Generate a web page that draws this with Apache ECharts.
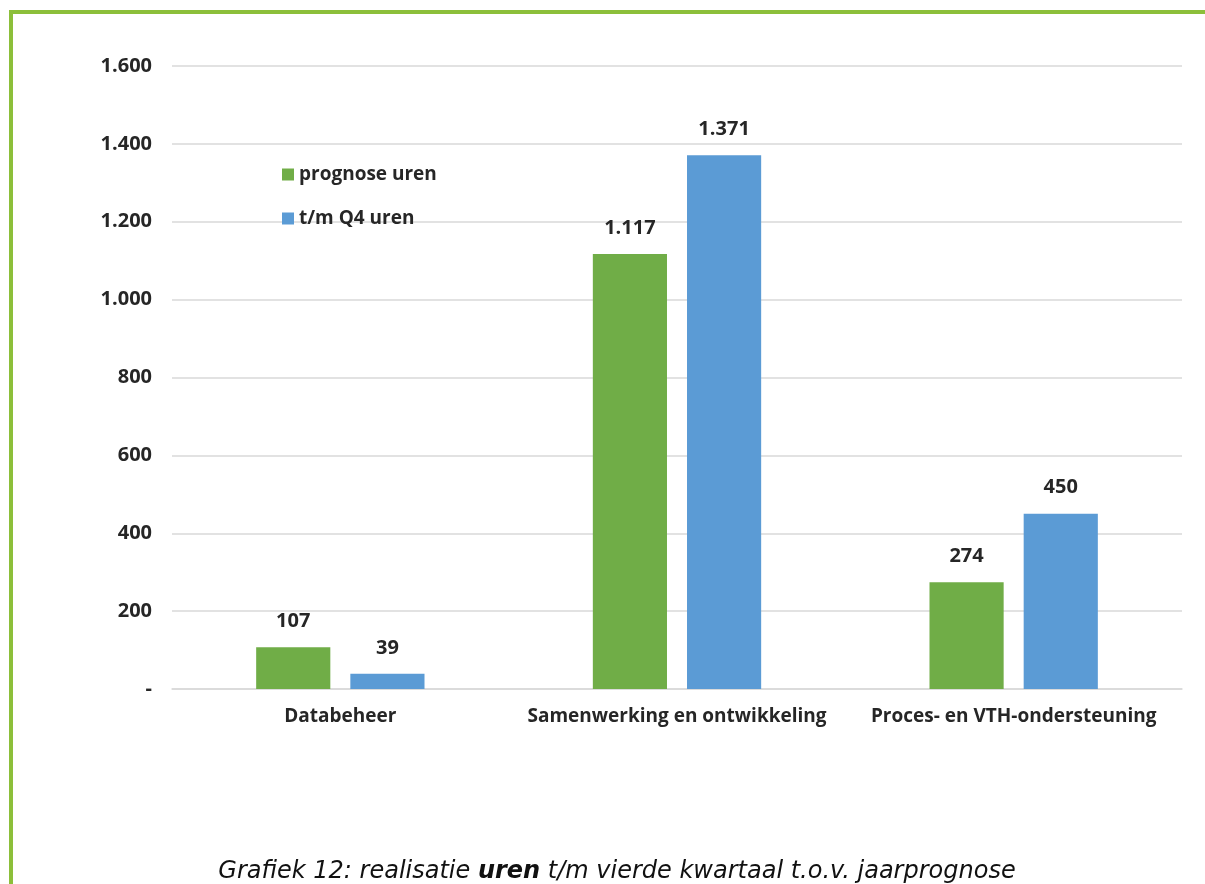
<!DOCTYPE html>
<html>
<head>
<meta charset="utf-8">
<script src="https://cdn.jsdelivr.net/npm/echarts@6/dist/echarts.min.js"></script>
<style>
  html, body { margin: 0; padding: 0; background: #fff; }
  #frame {
    position: absolute; left: 9px; top: 10px; width: 1196px; height: 874px;
    border-top: 4px solid #8cbf3a; border-left: 4px solid #8cbf3a;
    box-sizing: border-box;
  }
  #main { position: absolute; left: 0; top: 0; width: 1205px; height: 884px; }
</style>
</head>
<body>
<div id="frame"></div>
<div id="main"></div>
<script>
// data
var categories = ["Databeheer", "Samenwerking en ontwikkeling", "Proces- en VTH-ondersteuning"];
var prognoseUren = [107, 1117, 274];
var q4Uren = [39, 1371, 450];
var seriesNames = ["prognose uren", "t/m Q4 uren"];

function fmt(v) {
  if (v === 0) return "-";
  return String(v).replace(/\B(?=(\d{3})+(?!\d))/g, ".");
}

var chart = echarts.init(document.getElementById("main"));
var labelFont = { fontFamily: "Open Sans", fontWeight: "bold", fontSize: 19, color: "#262626" };

function valueLabel() {
  return Object.assign({ show: true, position: "top", distance: 16, formatter: function (p) { return fmt(p.value); } }, labelFont, { fontSize: 20 });
}

chart.setOption({
  backgroundColor: "transparent",
  animation: false,
  grid: { left: 172, right: 23, top: 66, bottom: 195 },
  title: {
    left: 612,
    textAlign: "center",
    top: 855,
    text: "{n|Grafiek 12: realisatie }{b|uren}{n| t/m vierde kwartaal t.o.v. jaarprognose}",
    textStyle: {
      fontWeight: "normal",
      rich: {
        n: { fontFamily: "DejaVu Sans", fontStyle: "italic", fontWeight: "normal", fontSize: 24, color: "#111" },
        b: { fontFamily: "DejaVu Sans", fontStyle: "italic", fontWeight: "bold", fontSize: 24, color: "#111" }
      }
    }
  },
  legend: {
    orient: "vertical",
    left: 277,
    top: 160,
    itemWidth: 12,
    itemHeight: 12,
    itemGap: 25,
    icon: "rect",
    data: seriesNames,
    textStyle: { fontFamily: "Open Sans", fontWeight: "bold", fontSize: 19, color: "#262626" }
  },
  xAxis: {
    type: "category",
    data: categories,
    axisLine: { show: true, lineStyle: { color: "#d9d9d9", width: 1.5 } },
    axisTick: { show: false },
    axisLabel: Object.assign({ margin: 18, interval: 0 }, labelFont)
  },
  yAxis: {
    type: "value",
    min: 0,
    max: 1600,
    interval: 200,
    axisLine: { show: false },
    axisTick: { show: false },
    splitLine: { lineStyle: { color: "#d9d9d9", width: 1.5 } },
    axisLabel: Object.assign({ margin: 20, formatter: fmt }, labelFont, { fontSize: 20 })
  },
  series: [
    {
      name: seriesNames[0],
      type: "bar",
      data: prognoseUren,
      barGap: "27%",
      barCategoryGap: "50%",
      itemStyle: { color: "#70ad47" },
      label: valueLabel()
    },
    {
      name: seriesNames[1],
      type: "bar",
      data: q4Uren,
      barGap: "27%",
      barCategoryGap: "50%",
      itemStyle: { color: "#5b9bd5" },
      label: valueLabel()
    }
  ]
});
</script>
</body>
</html>
